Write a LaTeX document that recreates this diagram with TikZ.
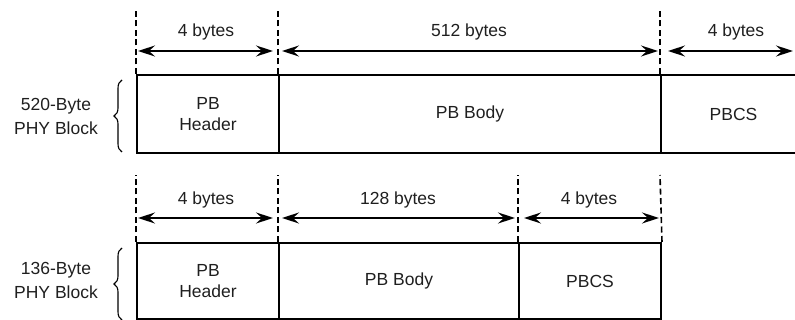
\documentclass[tikz,border=0pt]{standalone}
\usepackage{fontspec}
\setmainfont{Liberation Sans}
\usetikzlibrary{arrows.meta,decorations.pathreplacing}
\begin{document}
\begin{tikzpicture}[x=1pt,y=-1pt,
  font=\fontsize{17.5}{21}\selectfont,
  cell/.style={draw, line width=2pt, minimum height=#1, anchor=north west, inner sep=0pt, align=center},
  guide/.style={line width=1.6pt, dash pattern=on 6pt off 3.5pt},
  dim/.style={line width=2pt, {Stealth[length=17pt,width=11pt,inset=6pt]}-{Stealth[length=17pt,width=11pt,inset=6pt]}},
  rowlbl/.style={align=center, font=\fontsize{17.5}{24}\selectfont},
  brc/.style={decorate, decoration={brace, amplitude=8pt}, line width=1.1pt},
  txt/.style={text=black!88}]
\useasboundingbox (0,0) rectangle (795,320);
\clip (0,0) rectangle (795,320);
% ---------- row 1 ----------
\node[cell=78pt, minimum width=142pt, txt] (h1) at (136,74) {PB\\Header};
\node[cell=78pt, minimum width=382pt, txt] (b1) at (278,74) {PB Body};
\node[cell=78pt, minimum width=145pt, txt] (c1) at (660,74) {PBCS};
\coordinate (t1) at (136,8);
\coordinate (t2) at (278,8);
\coordinate (t3) at (660,8);
\draw[guide] (h1.north west) -- (t1);
\draw[guide] (b1.north west) -- (t2);
\draw[guide] (c1.north west) -- (t3);
\coordinate (a1) at (136,51);
\coordinate (a2) at (278,51);
\coordinate (a3) at (660,51);
\coordinate (a4) at (797,51);
\draw[dim] ([xshift=2pt]a1) -- ([xshift=-5pt]a2);
\draw[dim] ([xshift=4pt]a2) -- ([xshift=-2pt]a3);
\draw[dim] ([xshift=8pt]a3) -- ([xshift=-4pt]a4);
\node[txt] (l1) at (206,32) {4 bytes};
\node[txt] (l2) at (469,32) {512 bytes};
\node[txt] (l3) at (736,32) {4 bytes};
\node[rowlbl, txt] (r1) at (56,116.5) {520-Byte\\PHY Block};
\coordinate (k1b) at (122,152);
\coordinate (k1t) at (122,80);
\draw[brc] (k1b) -- (k1t);
% ---------- row 2 ----------
\node[cell=76pt, minimum width=142pt, txt] (h2) at (136,242) {PB\\Header};
\node[cell=76pt, minimum width=240pt, txt] (b2) at (278,242) {PB Body};
\node[cell=76pt, minimum width=142pt, txt] (c2) at (518,242) {PBCS};
\coordinate (s1) at (136,175);
\coordinate (s2) at (278,175);
\coordinate (s3) at (518,175);
\coordinate (s4) at (660,175);
\draw[guide] (h2.north west) -- (s1);
\draw[guide] (b2.north west) -- (s2);
\draw[guide] (c2.north west) -- (s3);
\draw[guide] (c2.north east) -- (s4);
\coordinate (d1) at (136,218);
\coordinate (d2) at (278,218);
\coordinate (d3) at (518,218);
\coordinate (d4) at (660,218);
\draw[dim] ([xshift=2pt]d1) -- ([xshift=-5pt]d2);
\draw[dim] ([xshift=4pt]d2) -- ([xshift=-3pt]d3);
\draw[dim] ([xshift=6pt]d3) -- ([xshift=-1pt]d4);
\node[txt] (m1) at (206,200) {4 bytes};
\node[txt] (m2) at (398,200) {128 bytes};
\node[txt] (m3) at (589,200) {4 bytes};
\node[rowlbl, txt] (r2) at (56,280.5) {136-Byte\\PHY Block};
\coordinate (k2b) at (122,320);
\coordinate (k2t) at (122,248);
\draw[brc] (k2b) -- (k2t);
\end{tikzpicture}
\end{document}
